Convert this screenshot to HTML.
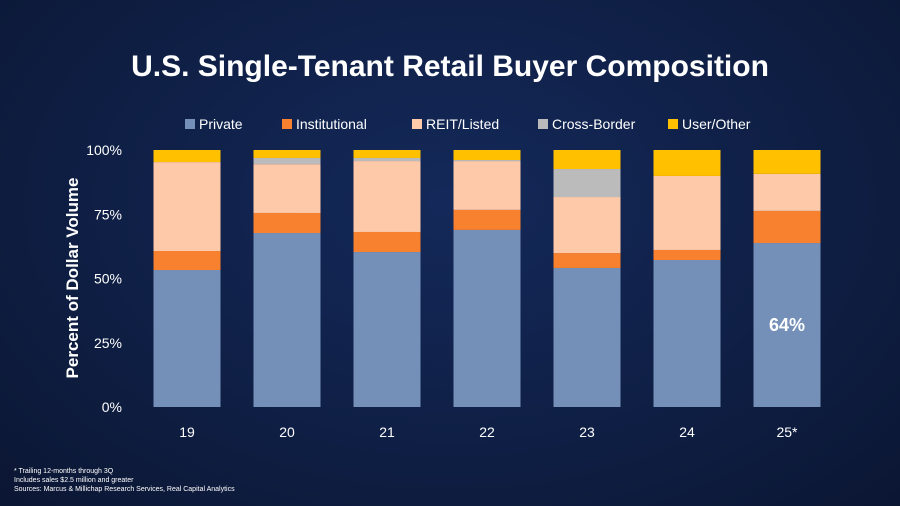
<!DOCTYPE html>
<html><head><meta charset="utf-8"><style>
body{margin:0;width:900px;height:506px;overflow:hidden;background:radial-gradient(ellipse at 50% 40%,#14295a 0%,#0f1f45 55%,#0b1633 100%);font-family:"Liberation Sans",sans-serif}
</style></head><body>
<svg id="c" width="900" height="506" style="position:absolute;left:0;top:0">
<text x="450" y="76" text-anchor="middle" fill="#fff" font-size="30" font-weight="bold">U.S. Single-Tenant Retail Buyer Composition</text>
<text transform="translate(78,278) rotate(-90)" text-anchor="middle" fill="#fff" font-size="17" font-weight="bold">Percent of Dollar Volume</text>
<text x="14" y="473" fill="#fff" font-size="7">* Trailing 12-months through 3Q</text>
<text x="14" y="482" fill="#fff" font-size="7">Includes sales $2.5 million and greater</text>
<text x="14" y="491" fill="#fff" font-size="7">Sources: Marcus &amp; Millichap Research Services, Real Capital Analytics</text>
</svg>
<script>
const categories=["19","20","21","22","23","24","25*"];
const seriesNames=["Private","Institutional","REIT/Listed","Cross-Border","User/Other"];
const privateVals=[53.3,67.7,60.3,68.9,54.1,57.2,63.8];
const institutionalVals=[7.4,7.8,7.8,7.8,5.8,3.9,12.5];
const reitVals=[34.6,19,27.6,19,21.8,28.8,14.4];
const crossBorderVals=[0,2.4,1.2,0.4,10.9,0,0];
const userVals=[4.7,3.1,3.1,3.9,7.4,10.1,9.3];
const yTicks=[0,25,50,75,100];
const colors=["#7490b8","#f7812f","#fdc9a9","#bbbbbb","#ffc000"];
const svg=document.getElementById('c');const NS="http://www.w3.org/2000/svg";
const y=v=>407-v*2.57;const xc=i=>187+i*100;const bw=67;
function mk(t,a){const e=document.createElementNS(NS,t);for(const k in a)e.setAttribute(k,a[k]);svg.appendChild(e);return e;}
yTicks.forEach(t=>{const e=mk('text',{x:122,y:y(t)+5,'text-anchor':'end',fill:'#fff','font-size':14});e.textContent=t+'%';

});
const series=[privateVals,institutionalVals,reitVals,crossBorderVals,userVals];
categories.forEach((c,i)=>{let base=0;series.forEach((s,j)=>{const v=s[i];if(v>0){const r=mk('rect',{x:xc(i)-bw/2,y:y(base+v),width:bw,height:v*2.57,fill:colors[j]});

}base+=v;});
const t=mk('text',{x:xc(i),y:437,'text-anchor':'middle',fill:'#fff','font-size':14});t.textContent=c;

});
const last=privateVals.length-1;
const lb=mk('text',{x:xc(last),y:y(privateVals[last]/2)+6,'text-anchor':'middle',fill:'#fff','font-size':18,'font-weight':'bold'});lb.textContent=Math.round(privateVals[last])+'%';


const lx=[185,282,412,538,668];
seriesNames.forEach((n,j)=>{const g=mk('g',{});


const r=document.createElementNS(NS,'rect');r.setAttribute('x',lx[j]);r.setAttribute('y',119);r.setAttribute('width',10);r.setAttribute('height',10);r.setAttribute('fill',colors[j]);g.appendChild(r);
const t=document.createElementNS(NS,'text');t.setAttribute('x',lx[j]+14);t.setAttribute('y',129);t.setAttribute('fill','#fff');t.setAttribute('font-size',14);t.textContent=n;g.appendChild(t);});
</script>
</body></html>
